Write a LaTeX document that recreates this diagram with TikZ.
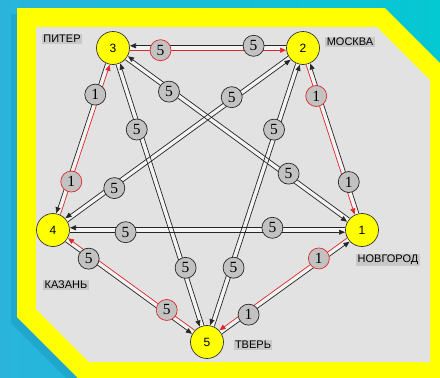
\documentclass[tikz,border=0pt]{standalone}
\usepackage{fontspec}
\setmainfont{Liberation Sans}
\newfontfamily\digitfont{Liberation Serif}
\usetikzlibrary{arrows.meta, calc}

\definecolor{skyleft}{HTML}{2AB4DC}
\definecolor{skyright}{HTML}{04C8D2}
\definecolor{skyshade}{HTML}{1796C0}
\definecolor{frameyellow}{HTML}{FFFF00}
\definecolor{panelgray}{HTML}{E2E2E2}
\definecolor{tagsgray}{HTML}{C8C8C8}
\definecolor{wtgray}{HTML}{C2C2C2}
\definecolor{routered}{HTML}{E02828}

\begin{document}
\begin{tikzpicture}[x=1pt, y=-1pt]
    % Define styles
    \tikzstyle{city} = [circle, draw=black!80, fill=frameyellow, line width=0.7pt, minimum size=33pt, inner sep=0pt, font=\fontsize{12}{12}\selectfont]
    \tikzstyle{tag} = [fill=tagsgray, inner sep=1.5pt, font=\fontsize{11}{11}\selectfont]
    \tikzstyle{wt} = [circle, fill=wtgray, line width=0.7pt, minimum size=21pt, inner sep=0pt, font=\digitfont\fontsize{15.5}{15.5}\selectfont]
    \tikzstyle{usual} = [draw=black!85]
    \tikzstyle{route} = [draw=routered]
    \tikzstyle{link} = [line width=0.7pt, shorten <=17pt, shorten >=17pt, -{Triangle[length=6pt, width=5pt]}]
    \tikzstyle{strip} = [line width=3.5pt, draw=white!60!panelgray, shorten <=17pt, shorten >=17pt]

    % Frame
    \useasboundingbox (0,0) rectangle (440,378);
    \fill[left color=skyleft, right color=skyright] (0,0) rectangle (440,378);
    \fill[skyshade, opacity=.45] (11,14) -- (379,14) -- (434,69) -- (434,384) -- (72,384) -- (11,323) -- cycle;
    \fill[frameyellow] (17,8) -- (385,8) -- (440,63) -- (440,378) -- (78,378) -- (17,317) -- cycle;
    \fill[panelgray] (36,27) -- (377,27) -- (430,80) -- (430,362) -- (89,362) -- (36,309) -- cycle;

    % Cities
    \node[city] (n3) at (113,48) {3};
    \node[city] (n2) at (303,48) {2};
    \node[city] (n1) at (362,230) {1};
    \node[city] (n5) at (207,342) {5};
    \node[city] (n4) at (53,230) {4};

    \node[tag] (piter) at (62,39) {ПИТЕР};
    \node[tag] (moskva) at (350,42) {МОСКВА};
    \node[tag] (novgorod) at (388,260) {НОВГОРОД};
    \node[tag] (tver) at (253,345) {ТВЕРЬ};
    \node[tag] (kazan) at (66,285) {КАЗАНЬ};

    % Roads
    \foreach \a/\b in {n3/n2, n3/n4, n2/n1, n3/n1, n2/n4, n3/n5, n2/n5, n4/n1, n4/n5, n5/n1}
        \draw[strip] (\a.center) -- (\b.center);

    \foreach \a/\b/\w/\p/\c in {n3/n2/5/.25/route, n2/n3/5/.26/usual,
                                n3/n4/1/.26/usual, n4/n3/1/.27/route,
                                n2/n1/1/.26/route, n1/n2/1/.26/usual,
                                n3/n1/5/.23/usual, n1/n3/5/.30/usual,
                                n2/n4/5/.28/usual, n4/n2/5/.24/usual,
                                n3/n5/5/.275/usual, n5/n3/5/.25/usual,
                                n2/n5/5/.28/usual, n5/n2/5/.255/usual,
                                n4/n1/5/.235/usual, n1/n4/5/.29/usual,
                                n4/n5/5/.24/usual, n5/n4/5/.27/route,
                                n5/n1/1/.26/usual, n1/n5/1/.27/route}
        \draw[link, \c] ($(\a.center)!2.2pt!-90:(\b.center)$) -- ($(\b.center)!2.2pt!90:(\a.center)$);

    % Weights
    \foreach \a/\b/\w/\p/\c in {n3/n2/5/.25/route, n2/n3/5/.26/usual,
                                n3/n4/1/.26/usual, n4/n3/1/.27/route,
                                n2/n1/1/.26/route, n1/n2/1/.26/usual,
                                n3/n1/5/.23/usual, n1/n3/5/.30/usual,
                                n2/n4/5/.28/usual, n4/n2/5/.24/usual,
                                n3/n5/5/.275/usual, n5/n3/5/.25/usual,
                                n2/n5/5/.28/usual, n5/n2/5/.255/usual,
                                n4/n1/5/.235/usual, n1/n4/5/.29/usual,
                                n4/n5/5/.24/usual, n5/n4/5/.27/route,
                                n5/n1/1/.26/usual, n1/n5/1/.27/route}
        \path ($(\a.center)!2.2pt!-90:(\b.center)$) -- ($(\b.center)!2.2pt!90:(\a.center)$) node[wt, \c, pos=\p] {\w};

\end{tikzpicture}
\end{document}
